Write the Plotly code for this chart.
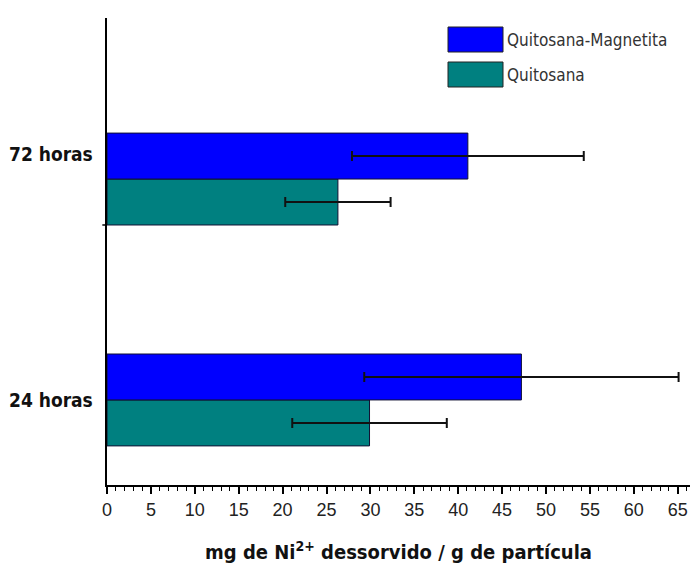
import plotly.graph_objects as go

# Desorption of Ni2+ per gram of particle, by contact time
categories = ["24 horas", "72 horas"]
series_names = ["Quitosana", "Quitosana-Magnetita"]
quitosana = [29.9, 26.3]
quitosana_err = [8.8, 6.0]
magnetita = [47.2, 41.1]
magnetita_err = [17.9, 13.2]
x_ticks = list(range(0, 70, 5))

colors = {"Quitosana": "#008080", "Quitosana-Magnetita": "#0000FF"}
LABEL_FONT = "DejaVu Sans Condensed, DejaVu Sans, sans-serif"
TICK_FONT = "Liberation Sans Narrow, Liberation Sans, Arial, sans-serif"

fig = go.Figure()
for name, vals, errs in [(series_names[0], quitosana, quitosana_err),
                         (series_names[1], magnetita, magnetita_err)]:
    fig.add_trace(go.Bar(
        y=categories, x=vals, orientation="h", name=name,
        marker=dict(color=colors[name], line=dict(color="#111133", width=1)),
        error_x=dict(type="data", array=errs, visible=True,
                     color="#111111", thickness=2, width=5),
        showlegend=False,
    ))

fig.update_layout(
    width=694, height=564,
    margin=dict(l=107, r=4, t=18, b=79),
    plot_bgcolor="white", paper_bgcolor="white",
    barmode="group", bargap=0.584, bargroupgap=0,
    font=dict(family=TICK_FONT, color="#111111"),
)

fig.update_xaxes(
    range=[0, 66.4], tickvals=x_ticks, automargin=False,
    ticks="outside", ticklen=7, tickwidth=1.5, tickcolor="black",
    minor=dict(dtick=1, ticks="outside", ticklen=4, tickwidth=1, tickcolor="black"),
    showline=True, linecolor="black", linewidth=2,
    showgrid=False, zeroline=False,
    tickfont=dict(size=18, family=TICK_FONT, color="#222222"),
    title=dict(text="<b>mg de Ni<sup>2+</sup> dessorvido / g de partícula</b>",
               font=dict(size=20, family=LABEL_FONT, color="#111111"),
               standoff=30),
)
fig.update_yaxes(
    range=[-0.385, 1.729], automargin=False,
    showline=True, linecolor="black", linewidth=2,
    ticks="", showticklabels=False, showgrid=False, zeroline=False,
)

# category labels
label_pos = {"24 horas": 0.0, "72 horas": 1.115}
for cat in categories:
    fig.add_annotation(xref="paper", yref="y", x=-0.02, y=label_pos[cat],
                       text=f"<b>{cat}</b>", showarrow=False,
                       xanchor="right", yanchor="middle",
                       font=dict(size=19, family=LABEL_FONT, color="#111111"))

# small separator tick on the y axis below the upper group
fig.add_shape(type="line", xref="paper", yref="y",
              x0=-0.008, x1=0, y0=1 - 0.208, y1=1 - 0.208,
              line=dict(color="black", width=1.5))

# legend drawn as swatches with labels
legend_items = [series_names[1], series_names[0]]
for i, name in enumerate(legend_items):
    y_top = 1 - (9 + i * 35) / 467
    y_bot = y_top - 25 / 467
    fig.add_shape(type="rect", xref="paper", yref="paper",
                  x0=(448 - 107) / 583, x1=(503 - 107) / 583,
                  y0=y_bot, y1=y_top,
                  fillcolor=colors[name], line=dict(color="#222222", width=1))
    fig.add_annotation(xref="paper", yref="paper",
                       x=(505 - 107) / 583, y=(y_top + y_bot) / 2,
                       text=name, showarrow=False, xanchor="left", yanchor="middle",
                       font=dict(size=17, family=LABEL_FONT, color="#333333"))

fig.write_html("out.html")
